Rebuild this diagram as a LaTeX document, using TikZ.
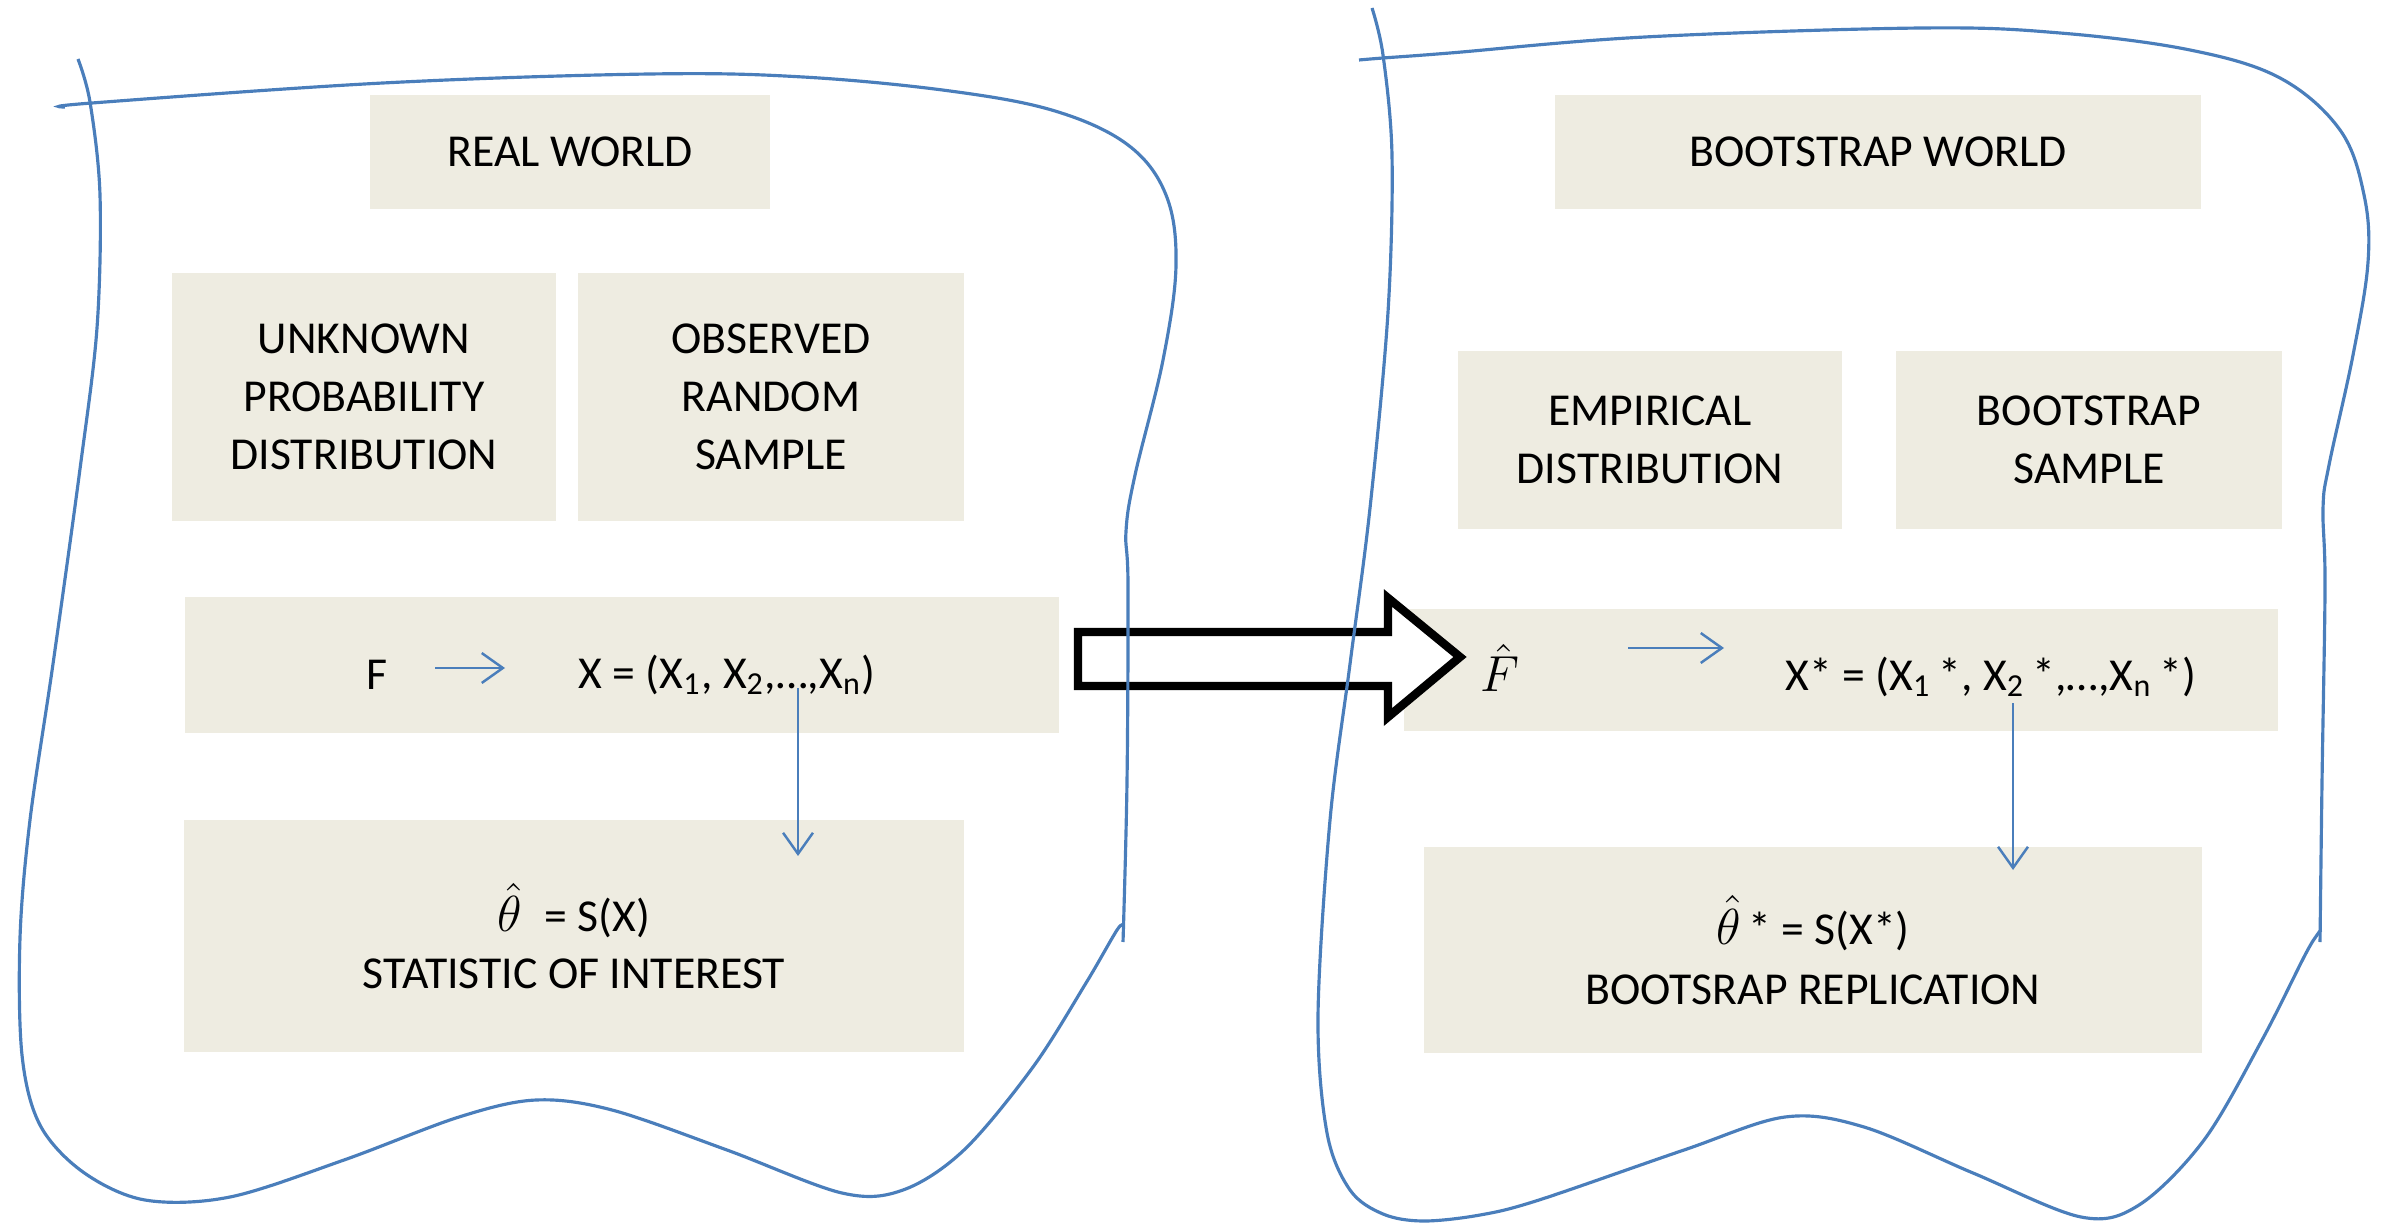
\documentclass[tikz,border=0pt]{standalone}
\usepackage{fontspec}
\setmainfont{Carlito}
\usetikzlibrary{arrows.meta}
\definecolor{boxfill}{HTML}{EEECE1}
\definecolor{outl}{HTML}{4A7EBB}
\begin{document}
\begin{tikzpicture}[x=0.01cm,y=-0.01cm,
  box/.style={fill=boxfill, inner sep=0pt, outer sep=0pt},
  lbl/.style={font=\fontsize{13}{16.5}\selectfont, align=center, inner sep=0pt},
  barrow/.style={draw=outl, line width=0.7pt, -{Straight Barb[length=6pt,width=8.5pt]}},
  outline/.style={draw=outl, line width=0.9pt},
  bigarrow/.style={draw=black, line width=2.4pt, fill=white, miter limit=10}]
\useasboundingbox (0,0) rectangle (2383,1225);

% boxes, real world
\node[box, lbl, minimum width=4.00cm, minimum height=1.14cm] (rw) at (570,152) {REAL WORLD};
\node[box, lbl, minimum width=3.84cm, minimum height=2.48cm] (unk) at (364,397) {UNKNOWN\\PROBABILITY\\DISTRIBUTION};
\node[box, lbl, minimum width=3.85cm, minimum height=2.48cm] (obs) at (771,397) {OBSERVED\\RANDOM\\SAMPLE};
\node[box, minimum width=8.74cm, minimum height=1.35cm] (fbox) at (622,665) {};
\node[box, lbl, minimum width=7.79cm, minimum height=2.32cm, font=\fontsize{13}{16.3}\selectfont] (thbox) at (574,936) {\scalebox{1.2}{$\hat{\theta}$}\enspace = S(X)\\STATISTIC OF INTEREST};

% boxes, bootstrap world
\node[box, lbl, minimum width=6.46cm, minimum height=1.14cm] (bw) at (1878,152) {BOOTSTRAP WORLD};
\node[box, lbl, minimum width=3.83cm, minimum height=1.78cm] (emp) at (1650,440) {EMPIRICAL\\DISTRIBUTION};
\node[box, lbl, minimum width=3.85cm, minimum height=1.78cm] (bs) at (2089,440) {BOOTSTRAP\\SAMPLE};
\node[box, minimum width=8.73cm, minimum height=1.22cm] (fhbox) at (1841,670) {};
\node[box, lbl, minimum width=7.78cm, minimum height=2.06cm, font=\fontsize{13}{17}\selectfont] (thsbox) at (1813,950) {\scalebox{1.2}{$\hat{\theta}$}\,* = S(X*)\\BOOTSRAP REPLICATION};

% big hollow arrow
\draw[bigarrow] (1078,632) -- (1388,632) -- (1388,598) -- (1460,657) -- (1388,717) -- (1388,686) -- (1078,686) -- cycle;

% hand-drawn outlines
\draw[outline] plot[smooth, tension=0.55] coordinates {(78,59) (90,102) (100,195) (97,328) (80,469) (53,664) (30,820) (20,938) (22,1055) (40,1125) (83,1172) (145,1200) (230,1197) (344,1160) (459,1117) (536,1100) (612,1110) (727,1150) (842,1193) (903,1190) (964,1150) (1033,1067) (1086,983) (1117,930) (1123,926)};
\draw[outline] plot[smooth, tension=0.6] coordinates {(1123,942) (1127,781) (1128,586) (1126,531) (1135,475) (1163,360) (1176,265) (1166,195) (1128,145) (1055,111) (950,91) (803,77) (650,74) (383,83) (92,103) (65,107)};
\draw[outline] plot[smooth, tension=0.55] coordinates {(1372,8) (1383,55) (1392,156) (1388,312) (1370,508) (1350,664) (1330,820) (1318,1016) (1327,1133) (1350,1190) (1383,1214) (1423,1221) (1480,1215) (1539,1200) (1684,1150) (1785,1117) (1864,1127) (1973,1173) (2081,1217) (2139,1205) (2204,1140) (2262,1040) (2305,955) (2317,935) (2321,930)};
\draw[outline] plot[smooth, tension=0.6] coordinates {(2320,942) (2322,781) (2325,586) (2323,508) (2329,465) (2353,355) (2368,262) (2364,195) (2340,130) (2280,78) (2190,50) (2060,33) (1922,28) (1645,37) (1450,53) (1383,58) (1359,60)};

% texts of the F rows
\node[lbl] (F) at (377,675) {F};
\node[lbl] (X) at (727,675) {X = (X\textsubscript{1}, X\textsubscript{2},…,X\textsubscript{n})};
\node[lbl, font=\fontsize{14}{16}\selectfont] (Fh) at (1500,668) {$\hat{F}$};
\node[lbl] (Xs) at (1991,677) {X* = (X\textsubscript{1}\,*, X\textsubscript{2}\,*,…,X\textsubscript{n}\,*)};

% small arrows
\coordinate (a1s) at (435,668);
\coordinate (a1e) at (505,668);
\coordinate (v1s) at (798,688);
\coordinate (v1e) at (798,856);
\coordinate (a2s) at (1628,648);
\coordinate (a2e) at (1724,648);
\coordinate (v2s) at (2013,703);
\coordinate (v2e) at (2013,870);
\draw[barrow] (a1s) -- (a1e);
\draw[barrow] (v1s) -- (v1e);
\draw[barrow] (a2s) -- (a2e);
\draw[barrow] (v2s) -- (v2e);
\end{tikzpicture}
\end{document}
